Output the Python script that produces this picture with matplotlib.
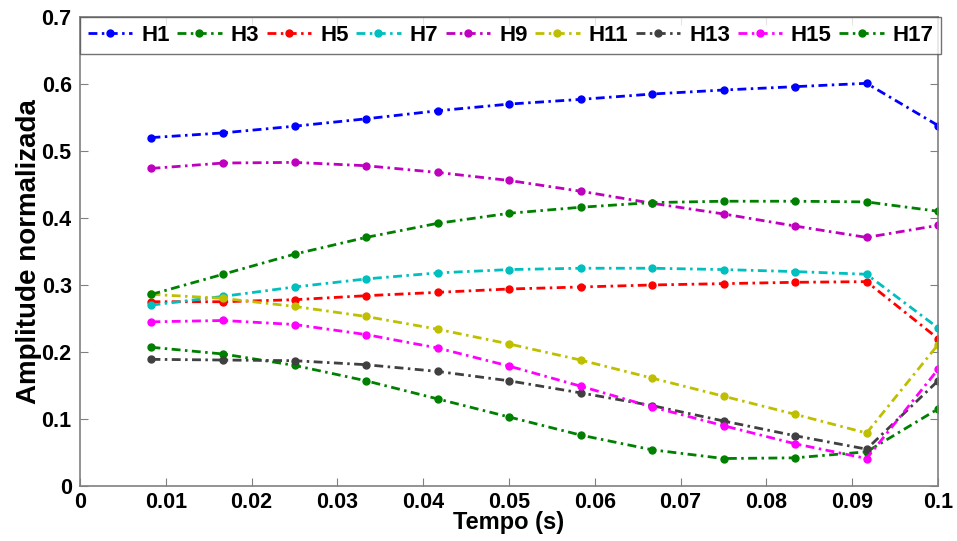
import matplotlib
matplotlib.use("Agg")
import matplotlib.pyplot as plt
import numpy as np

# instantes de amostragem (s)
tempo = [0.00833, 0.01667, 0.025, 0.03333, 0.04167, 0.05,
         0.05833, 0.06667, 0.075, 0.08333, 0.09167, 0.1]

h1 = [0.520, 0.527, 0.537, 0.548, 0.560, 0.570, 0.577, 0.585, 0.591, 0.596, 0.601, 0.538]
h3 = [0.207, 0.197, 0.180, 0.157, 0.130, 0.103, 0.076, 0.054, 0.041, 0.042, 0.051, 0.115]
h5 = [0.275, 0.275, 0.278, 0.284, 0.289, 0.294, 0.297, 0.300, 0.302, 0.304, 0.305, 0.220]
h7 = [0.270, 0.283, 0.297, 0.309, 0.318, 0.323, 0.325, 0.325, 0.323, 0.320, 0.316, 0.236]
h9 = [0.474, 0.482, 0.483, 0.478, 0.468, 0.456, 0.440, 0.422, 0.406, 0.388, 0.371, 0.389]
h11 = [0.286, 0.280, 0.268, 0.253, 0.234, 0.212, 0.188, 0.161, 0.134, 0.107, 0.079, 0.211]
h13 = [0.189, 0.188, 0.187, 0.181, 0.171, 0.157, 0.139, 0.120, 0.097, 0.075, 0.055, 0.157]
h15 = [0.245, 0.247, 0.241, 0.226, 0.206, 0.179, 0.149, 0.118, 0.090, 0.063, 0.041, 0.174]
h17 = [0.286, 0.316, 0.346, 0.371, 0.392, 0.407, 0.416, 0.423, 0.425, 0.425, 0.424, 0.410]

series = [("H1", h1), ("H3", h3), ("H5", h5), ("H7", h7), ("H9", h9),
          ("H11", h11), ("H13", h13), ("H15", h15), ("H17", h17)]
cores = ["#0000ff", "#008000", "#ff0000", "#00bfbf", "#bf00bf",
         "#bfbf00", "#404040", "#ff00ff", "#008000"]

plt.rcParams.update({
    "font.family": ["Liberation Sans", "DejaVu Sans"],
    "font.weight": "bold",
    "font.size": 16,
})

fig = plt.figure(figsize=(9.57, 5.41), dpi=100)
ax = fig.add_axes([0.0836, 0.1017, 0.8966, 0.8669])

for (nome, vals), c in zip(series, cores):
    ax.plot(tempo, vals, linestyle=(0, (3.2, 1.6, 0.9, 1.6)), marker=".",
            color=c, linewidth=2, markersize=10, label=nome)

ax.set_xlim(0, 0.1)
ax.set_ylim(0, 0.7)
ax.set_xticks(np.arange(0, 0.1001, 0.01))
ax.set_xticklabels(["0"] + [f"{v:.2f}" for v in np.arange(0.01, 0.0951, 0.01)] + ["0.1"])
ax.set_yticks(np.arange(0, 0.7001, 0.1))
ax.set_yticklabels(["0"] + [f"{v:.1f}" for v in np.arange(0.1, 0.7001, 0.1)])
ax.tick_params(direction="in", length=6, color="#808080", top=True, right=True,
               labelsize=15.5)
ax.tick_params(axis="x", pad=4)
ax.tick_params(axis="y", pad=6)
for s in ax.spines.values():
    s.set_color("#808080")
    s.set_linewidth(1.2)

ax.set_xlabel("Tempo (s)", fontsize=17, fontweight="bold", labelpad=-1)
ax.set_ylabel("Amplitude normalizada", fontsize=20, fontweight="bold", labelpad=0)

leg = ax.legend(loc="upper left", bbox_to_anchor=(0, 1.0, 1.004, 0.0), mode="expand",
                ncol=9, frameon=True, fancybox=False, handlelength=2.0,
                handletextpad=0.4, columnspacing=0.8, borderaxespad=0,
                borderpad=0.35, prop={"size": 16, "weight": "bold"})
leg.get_frame().set_edgecolor("#505050")
leg.get_frame().set_linewidth(1.0)

fig.savefig("out.png", dpi=100)
